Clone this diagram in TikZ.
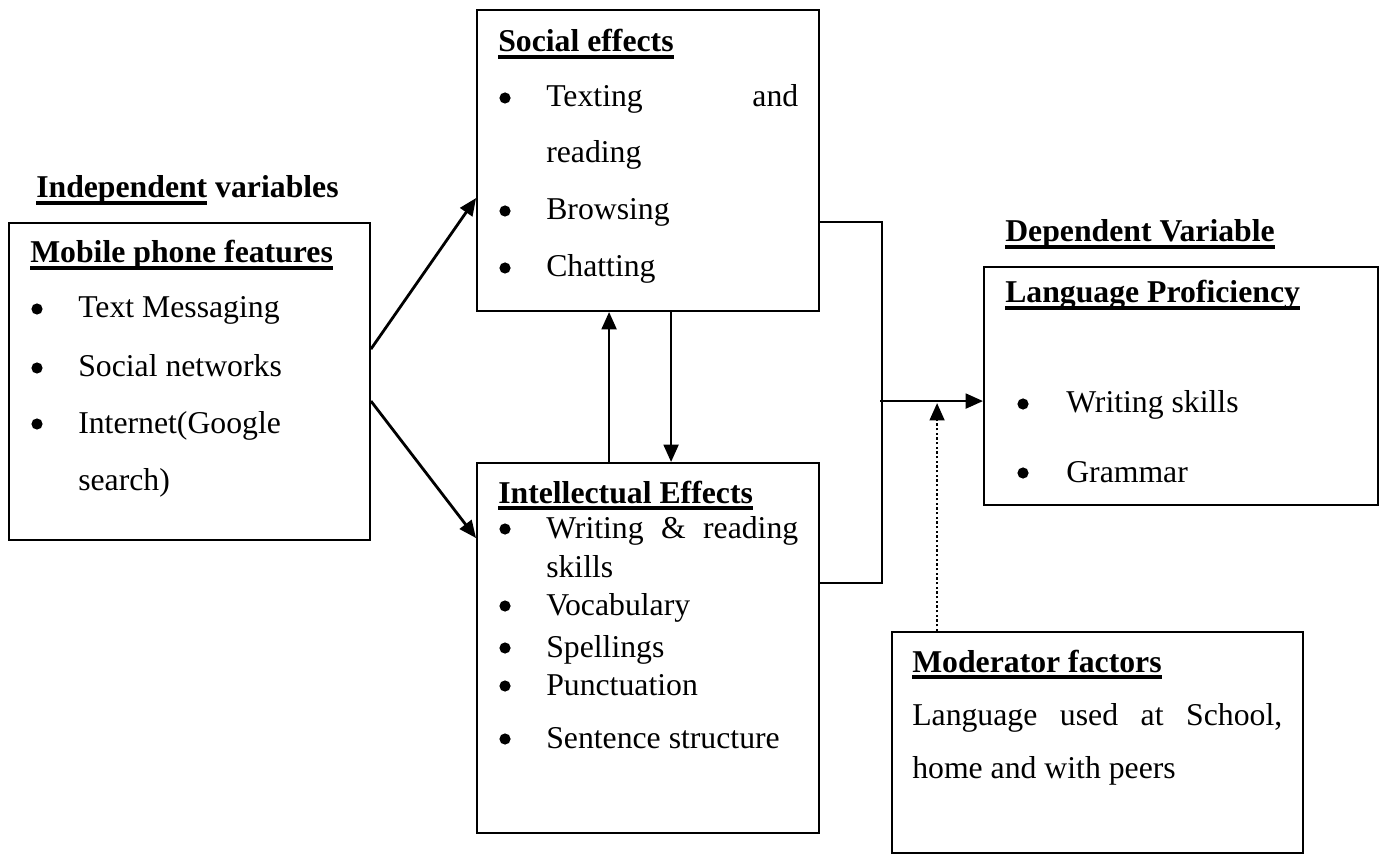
\documentclass[tikz,border=0pt]{standalone}
\usepackage{fontspec}
\setmainfont{Liberation Serif}
\usetikzlibrary{arrows.meta,calc,fit}
\newcommand{\myul}[1]{\setbox0\hbox{#1}\rlap{\vrule height -2.4pt depth 4.9pt width \wd0}\box0\relax}
\tikzset{
  box/.style={draw, line width=1.4pt, inner sep=0pt},
  txt/.style={anchor=base west, inner sep=0pt, font=\fontsize{23.8pt}{28pt}\selectfont},
  hd/.style={anchor=base west, inner sep=0pt, font=\fontsize{23.8pt}{28pt}\selectfont\bfseries},
  link/.style={line width=1.6pt},
  arr/.style={line width=2.1pt, -{Triangle[length=13pt,width=11pt]}},
  dots/.style={line width=1.9pt, dash pattern=on 1.8pt off 1.7pt, -{Triangle[length=13pt,width=11pt]}},
  bul/.style={fill=black}
}
\begin{document}
\begin{tikzpicture}[x=0.75pt,y=-0.75pt]
\useasboundingbox (0,0) rectangle (1385,855);
% boxes
\node[box, fit={(9,223) (370,540)}] (mob) {};
\node[box, fit={(477,10) (819,311)}] (soc) {};
\node[box, fit={(477,463) (819,833)}] (int) {};
\node[box, fit={(984,267) (1378,505)}] (lang) {};
\node[box, fit={(892,632) (1303,853)}] (mod) {};
% labels outside
\node[hd] (indep) at (36,198) {\myul{Independent} variables};
\node[hd] (dep) at (1005,242) {\myul{Dependent Variable}};
% mobile box
\node[hd] (mobt) at (30,263) {\myul{Mobile phone features}};
\node[txt] (m1) at (78,318) {Text Messaging};
\node[txt] (m2) at (78,377) {Social networks};
\node[txt] (m3) at (78,433) {Internet(Google};
\node[txt] (m4) at (78,490) {search)};
\foreach \y in {309,368,424} \fill[bul] (37,\y) circle[radius=4.2pt];
% social box
\node[hd] (soct) at (498,52) {\myul{Social effects}};
\node[txt] (s1) at (546,107) {\hbox to 189pt{Texting\hfill and}};
\node[txt] (s2) at (546,163) {reading};
\node[txt] (s3) at (546,220) {Browsing};
\node[txt] (s4) at (546,277) {Chatting};
\foreach \y in {98,211,268} \fill[bul] (505,\y) circle[radius=4.2pt];
% intellectual box
\node[hd] (intt) at (498,503) {\myul{Intellectual Effects}};
\node[txt] (i1) at (546,538) {\hbox to 189pt{Writing\hfill \&\hfill reading}};
\node[txt] (i2) at (546,577) {skills};
\node[txt] (i3) at (546,615) {Vocabulary};
\node[txt] (i4) at (546,657) {Spellings};
\node[txt] (i5) at (546,695) {Punctuation};
\node[txt] (i6) at (546,748) {Sentence structure};
\foreach \y in {529,606,648,686,739} \fill[bul] (505,\y) circle[radius=4.2pt];
% language box
\node[hd] (langt) at (1005,303) {\myul{Language Proficiency}};
\node[txt] (l1) at (1066,413) {Writing skills};
\node[txt] (l2) at (1066,482) {Grammar};
\foreach \y in {404,473} \fill[bul] (1023,\y) circle[radius=4.2pt];
% moderator box
\node[hd] (modt) at (912,672) {\myul{Moderator factors}};
\node[txt] (d1) at (912,725) {\hbox to 277.5pt{Language\hfill used\hfill at\hfill School,}};
\node[txt] (d2) at (912,778) {home and with peers};
% connectors
\draw[arr] ($(mob.north east)+(0,127)$) -- ($(soc.north west)+(0,189)$);
\draw[arr] ($(mob.north east)+(0,179)$) -- ($(int.north west)+(0,76)$);
\draw[arr] ($(int.north west)+(133,0)$) -- ($(soc.south west)+(133,0)$);
\draw[arr] ($(soc.south west)+(195,0)$) -- ($(int.north west)+(195,0)$);
\coordinate (j1) at ($(soc.north east)+(62,213)$);
\coordinate (j2) at ($(int.north east)+(62,121)$);
\coordinate (jm) at ($(lang.north west)+(-103,135)$);
\draw[link] ($(soc.north east)+(0,213)$) -- (j1) -- (j2) -- ($(int.north east)+(0,121)$);
\draw[arr] (jm) -- ($(lang.north west)+(0,135)$);
\coordinate (dt) at ($(mod.north west)+(46,-228)$);
\draw[dots] ($(mod.north west)+(46,0)$) -- (dt);
\end{tikzpicture}
\end{document}
